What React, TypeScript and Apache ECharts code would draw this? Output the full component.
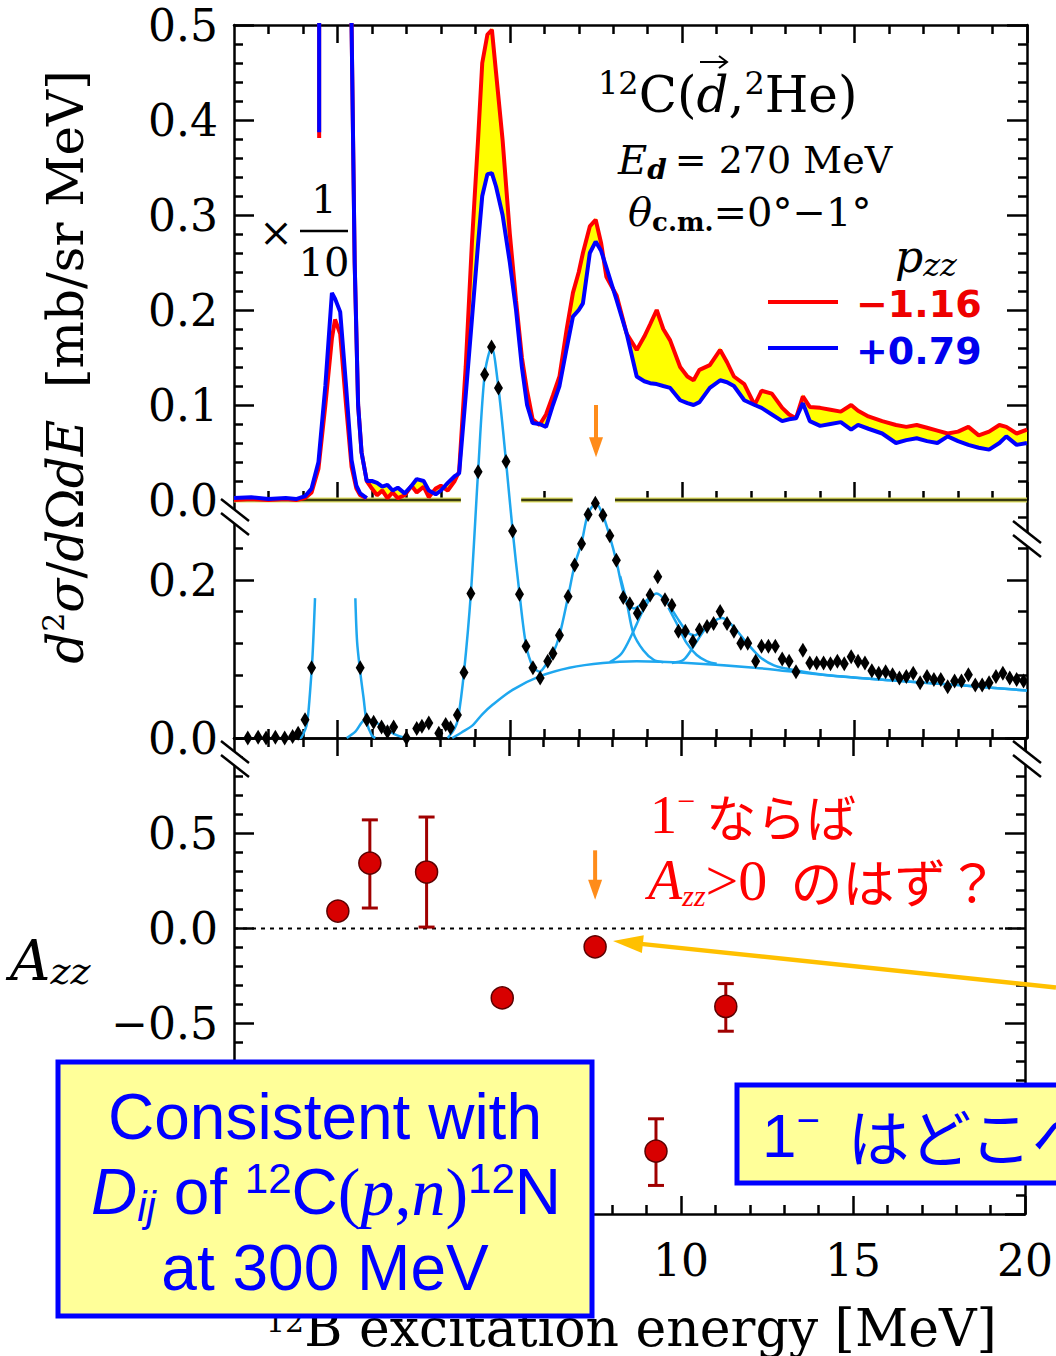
import React, { useEffect, useRef } from 'react';
import * as echarts from 'echarts';

const SERIF = "'DejaVu Serif', 'Liberation Serif', serif";
const TIMES = "'Liberation Serif', 'DejaVu Serif', serif";
const SANS = "'Liberation Sans', Arial, sans-serif";
const SANSB = "'DejaVu Sans', sans-serif";
const JP = "'Noto Sans CJK JP', sans-serif";

const X_MIN = -3;
const X_MAX = 20;
const X_MAJOR = [0, 5, 10, 15, 20];
const X_LABELS = [10, 15, 20]; // 0 and 5 are hidden by the box in the reference
const Y1_LABELS = [0, 0.1, 0.2, 0.3, 0.4, 0.5];
const Y2_LABELS = [0, 0.2];
const Y3_MAJOR = [-1.5, -1.0, -0.5, 0, 0.5, 1.0];
const Y3_LABELS = [-0.5, 0, 0.5]; // -1.0 and -1.5 are hidden by the box in the reference
// gaps of the panel-1 zero line
const BASE_SEGMENTS = [[-3, 3.58], [5.33, 6.82], [8.05, 20]];

// ---------- panel 1: d2sigma/dOmega dE (p_zz = -1.16 red, +0.79 blue) ----------
// ground state, scaled x 1/10
const E_GS = [-3, -2.5, -2, -1.5, -1.2, -0.94, -0.75, -0.55, -0.35, -0.16, -0.07, 0.08, 0.25, 0.41, 0.55, 0.66, 0.85];
const RED_GS = [0, 0.001, 0, 0.001, 0, 0.002, 0.008, 0.033, 0.1, 0.17, 0.19, 0.175, 0.1, 0.035, 0.012, 0.005, 0.002];
const BLUE_GS = [0.002, 0.003, 0.001, 0.002, 0.001, 0.004, 0.012, 0.04, 0.12, 0.218, 0.212, 0.198, 0.12, 0.042, 0.015, 0.007, 0.002];
// unscaled left stub
const E_STUB = [-0.53, -0.53];
const RED_STUB = [0.381, 0.7];
const BLUE_STUB = [0.387, 0.7];
// unscaled spectrum
const E_MAIN = [
  0.36, 0.41, 0.5, 0.6, 0.7, 0.85, 1.0, 1.15, 1.3, 1.45,
  1.6, 1.75, 1.95, 2.15, 2.3, 2.5, 2.65, 2.85, 3.0, 3.2,
  3.4, 3.53, 3.72, 3.9, 4.08, 4.2, 4.35, 4.48, 4.6, 4.79,
  5.0, 5.18, 5.35, 5.5, 5.66, 5.86, 6.05, 6.25, 6.44, 6.65,
  6.83, 7.0, 7.12, 7.32, 7.49, 7.65, 7.8, 8.1, 8.39, 8.68,
  8.9, 9.07, 9.26, 9.45, 9.65, 9.94, 10.15, 10.33, 10.5, 10.8,
  11.1, 11.3, 11.5, 11.8, 12.1, 12.3, 12.6, 12.9, 13.1, 13.3,
  13.5, 13.7, 14.0, 14.3, 14.6, 14.9, 15.1, 15.4, 15.8, 16.2,
  16.5, 16.8, 17.1, 17.4, 17.7, 18.0, 18.3, 18.6, 18.9, 19.2,
  19.4, 19.7, 20.0,
];
const RED_MAIN = [
  0.75, 0.5, 0.25, 0.1, 0.05, 0.02, 0.012, 0.005, 0.01, 0.002,
  0.008, 0.002, 0.005, 0.015, 0.008, 0.014, 0.003, 0.012, 0.015, 0.01,
  0.02, 0.03, 0.14, 0.27, 0.38, 0.46, 0.49, 0.495, 0.45, 0.379,
  0.28, 0.21, 0.15, 0.115, 0.085, 0.079, 0.09, 0.11, 0.13, 0.18,
  0.218, 0.24, 0.26, 0.288, 0.295, 0.27, 0.235, 0.215, 0.175, 0.158,
  0.172, 0.185, 0.2, 0.18, 0.168, 0.14, 0.13, 0.126, 0.137, 0.142,
  0.158, 0.145, 0.13, 0.122, 0.1, 0.115, 0.112, 0.097, 0.09, 0.086,
  0.109, 0.098, 0.097, 0.095, 0.093, 0.1, 0.094, 0.088, 0.083, 0.079,
  0.077, 0.079, 0.076, 0.073, 0.07, 0.072, 0.077, 0.068, 0.072, 0.079,
  0.077, 0.07, 0.074,
];
const BLUE_MAIN = [
  0.75, 0.5, 0.25, 0.1, 0.05, 0.02, 0.02, 0.018, 0.014, 0.016,
  0.01, 0.013, 0.007, 0.015, 0.022, 0.02, 0.01, 0.006, 0.01, 0.018,
  0.025, 0.028, 0.11, 0.19, 0.27, 0.32, 0.343, 0.344, 0.33, 0.3,
  0.25, 0.2, 0.14, 0.1, 0.081, 0.08, 0.077, 0.1, 0.12, 0.16,
  0.193, 0.2, 0.207, 0.26, 0.272, 0.262, 0.245, 0.21, 0.175, 0.13,
  0.125, 0.123, 0.122, 0.12, 0.118, 0.105, 0.102, 0.1, 0.103, 0.118,
  0.126, 0.124, 0.12, 0.105, 0.1, 0.097, 0.09, 0.083, 0.085, 0.086,
  0.102, 0.083, 0.078, 0.08, 0.082, 0.074, 0.079, 0.075, 0.07, 0.06,
  0.063, 0.065, 0.062, 0.06, 0.067, 0.062, 0.058, 0.055, 0.053, 0.06,
  0.067, 0.058, 0.06,
];

// ---------- panel 2: decomposition ----------
const P2_POINTS = [
  [-2.6, 0.0], [-2.3, 0.001], [-2.07, 0.0], [-1.8, 0.001], [-1.53, 0.0], [-1.3, 0.002], [-1.14, 0.006], [-0.94, 0.023], [-0.75, 0.089],
  [0.66, 0.089], [0.85, 0.023], [1.05, 0.02], [1.28, 0.014], [1.45, 0.008], [1.63, 0.014], [2.0, 0.0], [2.3, 0.012], [2.45, 0.015],
  [2.65, 0.019], [2.94, 0.006], [3.14, 0.017], [3.28, 0.013], [3.48, 0.029], [3.67, 0.083], [3.87, 0.183], [4.08, 0.337], [4.27, 0.46],
  [4.47, 0.495], [4.67, 0.443], [4.89, 0.35], [5.08, 0.262], [5.28, 0.182], [5.47, 0.116], [5.67, 0.089], [5.88, 0.076], [6.1, 0.097],
  [6.25, 0.107], [6.44, 0.13], [6.69, 0.179], [6.88, 0.219], [7.08, 0.246], [7.27, 0.283], [7.48, 0.297], [7.7, 0.282], [7.9, 0.256],
  [8.09, 0.225], [8.29, 0.178], [8.48, 0.17], [8.7, 0.158], [8.87, 0.168], [9.07, 0.181], [9.29, 0.204], [9.5, 0.175], [9.7, 0.168],
  [9.89, 0.135], [10.09, 0.135], [10.31, 0.122], [10.5, 0.137], [10.72, 0.141], [10.91, 0.145], [11.1, 0.16], [11.3, 0.145], [11.5, 0.135],
  [11.7, 0.12], [11.9, 0.12], [12.13, 0.097], [12.3, 0.116], [12.5, 0.116], [12.7, 0.116], [12.9, 0.1], [13.1, 0.097], [13.3, 0.084],
  [13.5, 0.111], [13.7, 0.095], [13.9, 0.095], [14.1, 0.095], [14.3, 0.094], [14.5, 0.097], [14.7, 0.094], [14.9, 0.103], [15.1, 0.097],
  [15.3, 0.095], [15.5, 0.085], [15.7, 0.082], [15.9, 0.084], [16.1, 0.08], [16.3, 0.076], [16.5, 0.078], [16.7, 0.082], [16.9, 0.07],
  [17.1, 0.078], [17.3, 0.074], [17.5, 0.074], [17.7, 0.065], [17.9, 0.072], [18.1, 0.072], [18.3, 0.08], [18.5, 0.067], [18.7, 0.067],
  [18.9, 0.07], [19.1, 0.078], [19.3, 0.082], [19.5, 0.076], [19.7, 0.074], [19.9, 0.072],
];
const FIT_GS_LEFT = [[-1.1, 0], [-1.04, 0.001], [-0.89, 0.017], [-0.8, 0.055], [-0.72, 0.106], [-0.65, 0.177]];
const FIT_GS_RIGHT = [[0.52, 0.177], [0.57, 0.122], [0.66, 0.084], [0.76, 0.05], [0.85, 0.02], [1.0, 0.003], [1.1, 0.0]];
const FIT_1MEV = [[0.27, 0.0], [0.52, 0.008], [0.81, 0.023], [1.1, 0.02], [1.38, 0.012], [1.7, 0.004], [2.0, 0.0]];
const FIT_TOTAL = [
  [3.2, 0.0], [3.4, 0.012], [3.5, 0.025], [3.67, 0.083], [3.87, 0.183], [4.08, 0.337], [4.27, 0.46], [4.47, 0.495], [4.67, 0.443],
  [4.89, 0.35], [5.08, 0.263], [5.28, 0.183], [5.47, 0.118], [5.67, 0.09], [5.86, 0.084], [6.05, 0.093], [6.25, 0.107], [6.44, 0.13],
  [6.69, 0.179], [6.88, 0.219], [7.08, 0.247], [7.27, 0.284], [7.5, 0.297], [7.7, 0.282], [7.9, 0.255], [8.09, 0.224], [8.25, 0.192],
  [8.39, 0.172], [8.6, 0.164], [8.9, 0.172], [9.26, 0.183], [9.55, 0.172], [9.84, 0.153], [10.13, 0.135], [10.35, 0.13], [10.55, 0.135],
  [10.8, 0.145], [11.16, 0.152], [11.5, 0.14], [11.88, 0.12], [12.27, 0.102], [12.66, 0.092], [13.0, 0.088], [14.08, 0.08],
  [16.04, 0.073], [18.0, 0.067], [20.0, 0.06],
];
const FIT_BG = [
  [3.33, 0.0], [3.6, 0.007], [3.92, 0.016], [4.2, 0.03], [4.5, 0.042], [5.08, 0.061], [5.86, 0.078], [6.73, 0.089], [7.7, 0.095],
  [8.68, 0.097], [10.15, 0.095], [12.1, 0.089], [14.08, 0.08], [16.04, 0.073], [18.0, 0.067], [20.0, 0.06],
];
const FIT_75_TAIL = [[8.2, 0.205], [8.39, 0.172], [8.58, 0.133], [8.87, 0.111], [9.17, 0.099], [9.45, 0.096]];
const FIT_93_LEFT = [[7.9, 0.096], [8.24, 0.107], [8.53, 0.13], [8.87, 0.162], [9.1, 0.178]];
const FIT_93_RIGHT = [[9.6, 0.165], [9.84, 0.145], [10.13, 0.12], [10.42, 0.105], [10.72, 0.097], [11.0, 0.094]];
const FIT_111_LEFT = [[9.7, 0.095], [10.04, 0.099], [10.33, 0.116], [10.72, 0.141], [11.0, 0.148]];

// ---------- panel 3: A_zz ----------
const AZZ_E = [0.02, 0.95, 2.6, 4.8, 7.5, 9.27, 11.3];
const AZZ_V = [0.091, 0.343, 0.296, -0.365, -0.097, -1.17, -0.41];
const AZZ_LO = [null, 0.107, 0.007, null, null, -1.35, -0.54];
const AZZ_HI = [null, 0.57, 0.585, null, null, -1.0, -0.29];

// arrows: [tipX, tipY, tailX, tailY]
const ARROW_P1 = [[7.5, 0.045, 7.5, 0.1]];
const ARROW_P3 = [[7.5, 0.15, 7.5, 0.41]];
const ARROW_YELLOW = [[8.02, -0.066, 20.9, -0.31]];

const steps = (a: number, b: number, s: number) => {
  const out: number[] = [];
  for (let i = 0; a + i * s <= b + 1e-9; i++) out.push(Math.round((a + i * s) * 1000) / 1000);
  return out;
};
const notIn = (arr: number[]) => (v: number) => !arr.some((m) => Math.abs(m - v) < 1e-6);
const X_MINOR = steps(-2, 19, 1).filter(notIn(X_MAJOR));
const notGap = (v: number) => !((v > 3.58 && v < 5.33) || (v > 6.82 && v < 8.05));
const Y1_MINOR = steps(0.02, 0.48, 0.02).filter(notIn(Y1_LABELS));
const Y2_MINOR = steps(0.04, 0.28, 0.04).filter(notIn(Y2_LABELS));
const Y3_MINOR = steps(-1.4, 0.9, 0.1).filter(notIn(Y3_MAJOR));

const fmtY = (v: number) => v.toFixed(1).replace('-', '\u2212');
const fmtX = (v: number) => String(v);

function ax(grid: number, position: string, min: number, max: number, ticks: number[], len: number, line: boolean, labels?: number[], fmt?: any, margin?: number) {
  return {
    type: 'value', gridIndex: grid, position, min, max,
    axisLine: { show: line, onZero: false, lineStyle: { color: '#000', width: 2.5 } },
    axisTick: { show: true, inside: true, length: len, customValues: ticks, lineStyle: { color: '#000', width: 2.5 } },
    axisLabel: labels
      ? { show: true, customValues: labels, formatter: fmt, color: '#000', fontFamily: SERIF, fontSize: 44, margin: margin ?? 16 }
      : { show: false },
    splitLine: { show: false },
  };
}

const zip = (xs: number[], ys: (number | null)[]) => xs.map((x, i) => [x, ys[i]]);

const arrowRender = (color: string, width: number, head: number, halfW: number) => (params: any, api: any) => {
  const tip = api.coord([api.value(0), api.value(1)]);
  const tail = api.coord([api.value(2), api.value(3)]);
  const dx = tip[0] - tail[0];
  const dy = tip[1] - tail[1];
  const L = Math.hypot(dx, dy);
  const ux = dx / L, uy = dy / L;
  const bx = tip[0] - ux * head, by = tip[1] - uy * head;
  return {
    type: 'group',
    children: [
      { type: 'line', shape: { x1: tail[0], y1: tail[1], x2: bx + ux * 2, y2: by + uy * 2 }, style: { stroke: color, lineWidth: width } },
      { type: 'polygon', shape: { points: [[tip[0], tip[1]], [bx - uy * halfW, by + ux * halfW], [bx + uy * halfW, by - ux * halfW]] }, style: { fill: color } },
    ],
  };
};

function buildOption() {
  const xAxis: any[] = [
    // grid 0 (idx 0-3)
    ax(0, 'bottom', X_MIN, X_MAX, X_MAJOR.filter(notGap), 18, false),
    ax(0, 'bottom', X_MIN, X_MAX, X_MINOR.filter(notGap), 9, false),
    ax(0, 'top', X_MIN, X_MAX, X_MAJOR, 18, true),
    ax(0, 'top', X_MIN, X_MAX, X_MINOR, 9, false),
    // grid 1 (idx 4-5)
    ax(1, 'bottom', X_MIN, X_MAX, X_MAJOR, 18, true),
    ax(1, 'bottom', X_MIN, X_MAX, X_MINOR, 9, false),
    // grid 2 (idx 6-9)
    ax(2, 'bottom', X_MIN, X_MAX, X_MAJOR, 18, true, X_LABELS, fmtX, 24),
    ax(2, 'bottom', X_MIN, X_MAX, X_MINOR, 9, false),
    ax(2, 'top', X_MIN, X_MAX, X_MAJOR, 18, true),
    ax(2, 'top', X_MIN, X_MAX, X_MINOR, 9, false),
  ];
  const yAxis: any[] = [
    ax(0, 'left', 0, 0.5, Y1_LABELS, 20, true, Y1_LABELS, fmtY),
    ax(0, 'left', 0, 0.5, Y1_MINOR, 9, false),
    ax(0, 'right', 0, 0.5, Y1_LABELS, 20, true),
    ax(0, 'right', 0, 0.5, Y1_MINOR, 9, false),
    ax(1, 'left', 0, 0.3, Y2_LABELS, 20, true, Y2_LABELS, fmtY),
    ax(1, 'left', 0, 0.3, Y2_MINOR, 9, false),
    ax(1, 'right', 0, 0.3, Y2_LABELS, 20, true),
    ax(1, 'right', 0, 0.3, Y2_MINOR, 9, false),
    ax(2, 'left', -1.5, 1.0, Y3_MAJOR, 20, true, Y3_LABELS, fmtY),
    ax(2, 'left', -1.5, 1.0, Y3_MINOR, 9, false),
    ax(2, 'right', -1.5, 1.0, Y3_MAJOR, 20, true),
    ax(2, 'right', -1.5, 1.0, Y3_MINOR, 9, false),
  ];

  const g0 = { xAxisIndex: 0, yAxisIndex: 0 };
  const g1 = { xAxisIndex: 4, yAxisIndex: 4 };
  const g2 = { xAxisIndex: 6, yAxisIndex: 8 };
  const line = (data: any[], color: string, width: number, extra: any = {}) => ({
    type: 'line', data, symbol: 'none', showSymbol: false, lineStyle: { color, width }, itemStyle: { color }, ...extra,
  });

  // fill between red and blue: one quad per interval
  const fillData = E_MAIN.slice(0, -1).map((e, i) => [e, RED_MAIN[i], BLUE_MAIN[i], E_MAIN[i + 1], RED_MAIN[i + 1], BLUE_MAIN[i + 1]]);

  const FIT = '#1ea7ef';
  const series: any[] = [
    // panel 1
    {
      type: 'custom', ...g0, z: 1, data: fillData, clip: true,
      renderItem: (params: any, api: any) => {
        const a = api.coord([api.value(0), Math.min(api.value(1), 0.5)]);
        const b = api.coord([api.value(3), Math.min(api.value(4), 0.5)]);
        const c = api.coord([api.value(3), Math.min(api.value(5), 0.5)]);
        const d = api.coord([api.value(0), Math.min(api.value(2), 0.5)]);
        return { type: 'polygon', shape: { points: [a, b, c, d] }, style: { fill: '#ffff00', stroke: '#ffff00', lineWidth: 1.5 } };
      },
    },
    ...BASE_SEGMENTS.map((s) => ({ ...line([[s[0], 0], [s[1], 0]], '#e0e060', 5), ...g0, clip: false, z: 2 })),
    ...BASE_SEGMENTS.map((s) => ({ ...line([[s[0], 0], [s[1], 0]], '#3a3a10', 2.5), ...g0, clip: false, z: 2 })),
    { ...line(zip(E_GS, RED_GS), '#ff0000', 4), ...g0, z: 3 },
    { ...line(zip(E_STUB, RED_STUB), '#ff0000', 4), ...g0, z: 3 },
    { ...line(zip(E_MAIN, RED_MAIN), '#ff0000', 4), ...g0, z: 3 },
    { ...line(zip(E_GS, BLUE_GS), '#0000ff', 4), ...g0, z: 4 },
    { ...line(zip(E_STUB, BLUE_STUB), '#0000ff', 4), ...g0, z: 4 },
    { ...line(zip(E_MAIN, BLUE_MAIN), '#0000ff', 4), ...g0, z: 4 },
    { type: 'custom', ...g0, data: ARROW_P1, renderItem: arrowRender('#ff8c1a', 4, 20, 7), z: 5 },
    // panel 2
    ...[FIT_GS_LEFT, FIT_GS_RIGHT, FIT_1MEV, FIT_BG, FIT_75_TAIL, FIT_93_LEFT, FIT_93_RIGHT, FIT_111_LEFT].map((d) => ({
      ...line(d, FIT, 2.5), ...g1, smooth: 0.3, clip: false, z: 2,
    })),
    { ...line(FIT_TOTAL, FIT, 2.5), ...g1, smooth: 0.3, clip: false, z: 2 },
    {
      type: 'scatter', ...g1, data: P2_POINTS, symbol: 'diamond', symbolSize: [9, 15], clip: false,
      itemStyle: { color: '#000', opacity: 1 }, z: 3,
    },
    // panel 3
    { ...line([[X_MIN, 0], [X_MAX, 0]], '#000', 2, { lineStyle: { color: '#000', width: 2, type: [4, 5] } }), ...g2, z: 2 },
    {
      type: 'custom', ...g2, z: 3,
      data: AZZ_E.map((e, i) => [e, AZZ_LO[i], AZZ_HI[i]]).filter((d) => d[1] !== null),
      renderItem: (params: any, api: any) => {
        const x = api.value(0);
        const lo = api.coord([x, api.value(1)]);
        const hi = api.coord([x, api.value(2)]);
        const hw = 8;
        const st = { stroke: '#a00000', lineWidth: 3 };
        return {
          type: 'group',
          children: [
            { type: 'line', shape: { x1: lo[0], y1: lo[1], x2: hi[0], y2: hi[1] }, style: st },
            { type: 'line', shape: { x1: lo[0] - hw, y1: lo[1], x2: lo[0] + hw, y2: lo[1] }, style: st },
            { type: 'line', shape: { x1: hi[0] - hw, y1: hi[1], x2: hi[0] + hw, y2: hi[1] }, style: st },
          ],
        };
      },
    },
    {
      type: 'scatter', ...g2, data: zip(AZZ_E, AZZ_V), symbol: 'circle', symbolSize: 22,
      itemStyle: { color: '#d80000', borderColor: '#5a0000', borderWidth: 1.5, opacity: 1 }, z: 4,
    },
    { type: 'custom', ...g2, data: ARROW_P3, renderItem: arrowRender('#ff8c1a', 4, 20, 7), z: 5 },
    { type: 'custom', ...g2, data: ARROW_YELLOW, renderItem: arrowRender('#ffc000', 4.5, 30, 9), z: 5 },
  ];

  const T = (x: number, y: number, text: string, rich: any, extra: any = {}) => ({
    type: 'text', x, y, z: 100, ...extra,
    style: { text, rich, align: 'left', verticalAlign: 'middle', fill: '#000', ...(extra.style || {}) },
  });

  const sub = (size: number, family: string, lh: number, style: any = {}) => ({ fontSize: size, fontFamily: family, lineHeight: lh, verticalAlign: 'bottom', ...style });
  const sup = (size: number, family: string, lh: number, style: any = {}) => ({ fontSize: size, fontFamily: family, lineHeight: lh, verticalAlign: 'top', ...style });
  const nor = (size: number, family: string, lh: number, style: any = {}) => ({ fontSize: size, fontFamily: family, lineHeight: lh, ...style });

  const breakMark = (x1: number, y1: number, x2: number, y2: number) => [
    { type: 'polygon', z: 90, shape: { points: [[x1, y1], [x2, y2], [x2, y2 + 14], [x1, y1 + 14]] }, style: { fill: '#fff' } },
    { type: 'line', z: 91, shape: { x1, y1, x2, y2 }, style: { stroke: '#000', lineWidth: 2.5 } },
    { type: 'line', z: 91, shape: { x1, y1: y1 + 14, x2, y2: y2 + 14 }, style: { stroke: '#000', lineWidth: 2.5 } },
  ];
  const RED = { fill: '#ff0000' };
  const BL = { fill: '#0000ff' };

  const graphic: any[] = [
    ...breakMark(221, 499, 249, 521),
    ...breakMark(1013, 521, 1041, 543),
    ...breakMark(221, 741, 249, 763),
    ...breakMark(1013, 741, 1041, 763),
    // y title
    {
      type: 'text', x: 66, y: 367, rotation: Math.PI / 2, z: 100,
      style: {
        text: '{i|d}{s|2}{i|σ}{n|/}{i|d}{n|Ω}{i|dE}{n|  [mb/sr MeV]}', align: 'center', verticalAlign: 'middle', fill: '#000',
        rich: { i: nor(50, SERIF, 56, { fontStyle: 'italic' }), n: nor(50, SERIF, 56), s: sup(30, SERIF, 30) },
      },
    },
    // reaction label with vector arrow over d
    T(598, 95, '{s|12}{n|C(}{i|d}{n|,}{s|2}{n|He)}', { n: nor(50, SERIF, 56), i: nor(50, SERIF, 56, { fontStyle: 'italic' }), s: sup(32, SERIF, 30) }),
    { type: 'line', z: 100, shape: { x1: 700, y1: 62, x2: 726, y2: 62 }, style: { stroke: '#000', lineWidth: 2 } },
    { type: 'polyline', z: 100, shape: { points: [[719, 56], [727, 62], [719, 68]] }, style: { stroke: '#000', lineWidth: 2, fill: 'none' } },
    T(618, 160, '{i|E}{b|d}{n|= 270 MeV}', {
      i: nor(40, SERIF, 46, { fontStyle: 'italic' }), n: nor(38, SERIF, 46, { padding: [0, 0, 0, 8] }),
      b: sub(28, SERIF, 26, { fontStyle: 'italic', fontWeight: 'bold' }),
    }),
    T(628, 212, '{i|θ}{b|c.m.}{n|=0°−1°}', { i: nor(40, SERIF, 46, { fontStyle: 'italic' }), n: nor(40, SERIF, 46), b: sub(26, SERIF, 26, { fontWeight: 'bold' }) }),
    T(895, 256, '{i|p}{b|zz}', { i: nor(44, SERIF, 50, { fontStyle: 'italic' }), b: sub(32, SERIF, 30, { fontStyle: 'italic' }) }),
    // legend
    { type: 'line', z: 100, shape: { x1: 768, y1: 302, x2: 838, y2: 302 }, style: { stroke: '#ff0000', lineWidth: 4 } },
    { type: 'line', z: 100, shape: { x1: 768, y1: 348, x2: 838, y2: 348 }, style: { stroke: '#0000ff', lineWidth: 4 } },
    T(856, 304, '{n|−1.16}', { n: nor(38, SANSB, 44, { fontWeight: 'bold', fill: '#ee0000' }) }),
    T(856, 351, '{n|+0.79}', { n: nor(38, SANSB, 44, { fontWeight: 'bold', fill: '#0000ee' }) }),
    // x 1/10
    { type: 'text', x: 276, y: 232, z: 100, style: { text: '×', fontFamily: SERIF, fontSize: 40, align: 'center', verticalAlign: 'middle', fill: '#000' } },
    { type: 'text', x: 324, y: 199, z: 100, style: { text: '1', fontFamily: SERIF, fontSize: 40, align: 'center', verticalAlign: 'middle', fill: '#000' } },
    { type: 'line', z: 100, shape: { x1: 300, y1: 231, x2: 348, y2: 231 }, style: { stroke: '#000', lineWidth: 2.5 } },
    { type: 'text', x: 324, y: 262, z: 100, style: { text: '10', fontFamily: SERIF, fontSize: 40, align: 'center', verticalAlign: 'middle', fill: '#000' } },
    // A_zz
    T(10, 960, '{i|A}{b|zz}', { i: nor(56, SERIF, 60, { fontStyle: 'italic' }), b: sub(38, SERIF, 34, { fontStyle: 'italic' }) }),
    // red comment
    T(650, 815, '{t|1}{s|−}{j| ならば}', { t: nor(54, TIMES, 60, RED), s: sup(32, TIMES, 30, RED), j: nor(50, JP, 60, RED) }),
    T(648, 880, '{a|A}{z|zz}{t|>0}{j|  のはず？}', {
      a: nor(56, TIMES, 60, { ...RED, fontStyle: 'italic' }), z: sub(30, TIMES, 22, { ...RED, fontStyle: 'italic' }),
      t: nor(58, TIMES, 60, RED), j: nor(52, JP, 60, RED),
    }),
    // x axis name (its left part lies under the box, as in the reference)
    T(266, 1328, '{s|12}{n|B excitation energy [MeV]}', { n: nor(52, SERIF, 44), s: sup(30, SERIF, 26) }),
    // left box
    { type: 'rect', z: 110, shape: { x: 58, y: 1062, width: 534, height: 254 }, style: { fill: '#ffff99', stroke: '#0000ff', lineWidth: 5 } },
    { type: 'text', x: 325, y: 1117, z: 111, style: { text: 'Consistent with', fontFamily: SANS, fontSize: 64, align: 'center', verticalAlign: 'middle', fill: '#0000ff' } },
    {
      type: 'text', x: 326, y: 1192, z: 111,
      style: {
        text: '{di|D}{sb|ij}{n| of }{sp|12}{n|C}{tn|(}{ti|p}{tn|,}{ti|n}{tn|)}{sp|12}{n|N}', align: 'center', verticalAlign: 'middle', fill: '#0000ff',
        rich: {
          di: nor(64, SANS, 70, { ...BL, fontStyle: 'italic' }), sb: sub(42, SANS, 40, { ...BL, fontStyle: 'italic' }),
          n: nor(64, SANS, 70, BL), sp: sup(42, SANS, 40, BL),
          tn: nor(68, TIMES, 70, BL), ti: nor(68, TIMES, 70, { ...BL, fontStyle: 'italic' }),
        },
      },
    },
    { type: 'text', x: 325, y: 1268, z: 111, style: { text: 'at 300 MeV', fontFamily: SANS, fontSize: 64, align: 'center', verticalAlign: 'middle', fill: '#0000ff' } },
    // right box (runs off the page edge as in the reference)
    { type: 'rect', z: 110, shape: { x: 737, y: 1085, width: 420, height: 98 }, style: { fill: '#ffff99', stroke: '#0000ff', lineWidth: 5 } },
    {
      type: 'text', x: 762, y: 1135, z: 111,
      style: {
        text: '{n|1}{s|−}{j|  はどこへ？}', align: 'left', verticalAlign: 'middle', fill: '#0000ff',
        rich: { n: nor(62, SANS, 70, BL), s: sup(40, SANS, 36, BL), j: nor(62, JP, 70, BL) },
      },
    },
  ];

  return {
    animation: false,
    backgroundColor: '#fff',
    grid: [
      { left: 234, top: 25, width: 793, height: 475 },
      { left: 234, top: 501, width: 793, height: 237 },
      { left: 234, top: 738, width: 793, height: 476 },
    ],
    xAxis,
    yAxis,
    series,
    graphic,
  };
}

export default function App() {
  const ref = useRef<HTMLDivElement>(null);
  useEffect(() => {
    if (!ref.current) return;
    const chart = echarts.init(ref.current, null, { renderer: 'svg' });
    chart.setOption(buildOption() as any);
    return () => chart.dispose();
  }, []);
  return <div ref={ref} style={{ position: 'absolute', left: 0, top: 0, width: 1056, height: 1356, background: '#fff' }} />;
}
